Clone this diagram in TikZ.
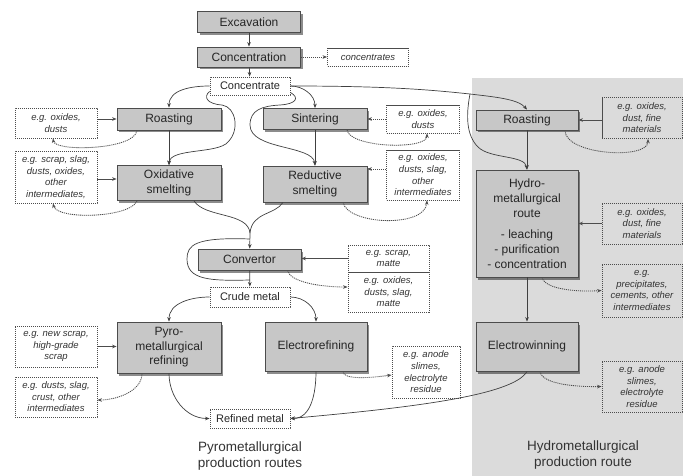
\documentclass[tikz,border=0pt]{standalone}
\usepackage{fontspec}
\setmainfont{Liberation Sans}
\usetikzlibrary{arrows.meta,shadows,calc}

\begin{document}
\begin{tikzpicture}[x=1pt,y=-1pt,
  every node/.style={inner sep=0pt, align=center},
  proc/.style={draw=black!70, line width=0.8pt, fill=black!22,
    drop shadow={shadow xshift=2pt,shadow yshift=-2.5pt,opacity=0.45,fill=black},
    font=\fontsize{12}{14.5}\selectfont, text=black!85},
  prod/.style={draw=black!70, line width=0.9pt, dash pattern=on 1.1pt off 0.9pt,
    font=\fontsize{11}{13}\selectfont, text=black!85},
  note/.style={prod, font=\itshape\fontsize{9.5}{11.6}\selectfont, text=black!80},
  flow/.style={draw=black!75, line width=0.7pt, -{Stealth[length=4.5pt,width=3.6pt]}},
  side/.style={flow, draw=black!70, line width=0.85pt, dash pattern=on 1.1pt off 0.9pt},
  caption/.style={font=\fontsize{13.5}{16}\selectfont, text=black!80}
]
\useasboundingbox (0,0) rectangle (683,476);

% hydrometallurgical panel
\fill[black!14] (472,78) rectangle (683,476);

% ---- main process chain
\node[proc, minimum width=103pt, minimum height=21pt] (exc) at (249,22) {Excavation};
\node[proc, minimum width=103pt, minimum height=20pt] (conc) at (249,57) {Concentration};
\node[note, minimum width=81pt, minimum height=18pt] (concs) at (368,57) {concentrates};
\node[prod, minimum width=80pt, minimum height=18pt] (cate) at (250,86) {Concentrate};

% pyrometallurgical pre-treatment and smelting
\node[proc, minimum width=104pt, minimum height=22pt] (roastL) at (169,119) {Roasting};
\node[note, minimum width=82pt, minimum height=30pt] (nRoastL) at (56,123) {e.g. oxides,\\dusts};
\node[proc, minimum width=104pt, minimum height=35pt] (ox) at (169,183) {Oxidative\\smelting};
\node[note, minimum width=82pt, minimum height=52pt] (nOx) at (56,177) {e.g. scrap, slag,\\dusts, oxides,\\other\\intermediates,};

\node[proc, minimum width=104pt, minimum height=21pt] (sint) at (315,119) {Sintering};
\node[note, minimum width=73pt, minimum height=28pt] (nSint) at (423,119) {e.g. oxides,\\dusts};
\node[proc, minimum width=104pt, minimum height=36pt] (reds) at (315,184) {Reductive\\smelting};
\node[note, minimum width=73pt, minimum height=50pt] (nRed) at (423,175) {e.g. oxides,\\dusts, slag,\\other\\intermediates};

% hydrometallurgical route
\node[proc, minimum width=102pt, minimum height=20pt] (roastR) at (527,120) {Roasting};
\node[note, minimum width=80pt, minimum height=41pt] (nRoastR) at (642,118) {e.g. oxides,\\dust, fine\\materials};
\node[proc, minimum width=102pt, minimum height=107pt, font=\fontsize{12}{15}\selectfont] (hydro) at (527,223.5)
  {Hydro-\\metallurgical\\route\\[6pt]- leaching\\- purification\\- concentration};
\node[note, minimum width=80pt, minimum height=41pt] (nHydro) at (642,223.5) {e.g. oxides,\\dust, fine\\materials};
\node[note, minimum width=80pt, minimum height=53pt] (nPrec) at (642,290.5) {e.g.\\precipitates,\\cements, other\\intermediates};
\node[proc, minimum width=102pt, minimum height=49pt] (ewin) at (527,346.5) {Electrowinning};
\node[note, minimum width=80pt, minimum height=51pt] (nEwin) at (642,386.5) {e.g. anode\\slimes,\\electrolyte\\residue};

% converting
\node[proc, minimum width=103pt, minimum height=21pt] (convertor) at (249.5,259.5) {Convertor};
\node[note, minimum width=81pt, minimum height=27pt] (nConvIn) at (388.5,258.5) {e.g. scrap,\\matte};
\node[note, minimum width=81pt, minimum height=40pt] (nConvOut) at (388.5,292) {e.g. oxides,\\dusts, slag,\\matte};
\node[prod, minimum width=80pt, minimum height=20pt] (crude) at (250,297) {Crude metal};

% refining
\node[proc, minimum width=104pt, minimum height=51pt] (pyro) at (169,347.5) {Pyro-\\metallurgical\\refining};
\node[note, minimum width=82pt, minimum height=41pt] (nPyroIn) at (56,346.5) {e.g. new scrap,\\high-grade\\scrap};
\node[note, minimum width=82pt, minimum height=40pt] (nPyroOut) at (56,397) {e.g. dusts, slag,\\crust, other\\intermediates};
\node[proc, minimum width=102pt, minimum height=49pt] (erefin) at (316,346.5) {Electrorefining};
\node[note, minimum width=68pt, minimum height=52pt] (nEref) at (426,372) {e.g. anode\\slimes,\\electrolyte\\residue};
\node[prod, minimum width=80pt, minimum height=19pt] (refined) at (250,418.5) {Refined metal};

% route captions
\node[caption] (capPyro) at (250,456) {Pyrometallurgical\\production routes};
\node[caption] (capHydro) at (583,455) {Hydrometallurgical\\production route};

% ---- helper points on the flow lines
\coordinate (fork) at (470,94);
\coordinate (merge) at (250,233);
\coordinate (loopA) at (250,239);
\coordinate (loopB) at (250,280);

% ---- main flows
\draw[flow] (exc) -- (conc);
\draw[flow] (conc) -- (cate);
\draw[side] (conc) -- (concs);

\draw[flow] (cate.west) to[out=180,in=90] (roastL.north);
\draw[flow] (cate.east) to[out=0,in=90] (sint.north);
\draw[draw=black!75, line width=0.7pt] (cate.east) .. controls (390,86) and (432,90) .. (fork);
\draw[flow] (fork) .. controls (495,97) and (518,99) .. (roastR.north);
\draw[flow] (fork) .. controls (466,115) and (466,135) .. (478,147)
  .. controls (490,159) and (525,155) .. (hydro.north);

% bypass of roasting into oxidative smelting
\draw[flow] ([yshift=4pt]cate.south west) .. controls (203,97) and (207,104) .. (222,105)
  .. controls (236,107) and (240,130) .. (228,142)
  .. controls (218,154) and (170,148) .. (ox.north);
% bypass of sintering into reductive smelting
\draw[flow] ([yshift=3pt]cate.south east) .. controls (300,98) and (296,104) .. (280,105)
  .. controls (262,106) and (250,110) .. (250,125)
  .. controls (250,150) and (313,145) .. (reds.north);

\draw[flow] (roastL) -- (ox);
\draw[flow] (sint) -- (reds);
\draw[flow] (roastR) -- (hydro);

% smelting products to the convertor
\draw[draw=black!75, line width=0.7pt] ([xshift=25pt]ox.south) .. controls (205,218) and (248,212) .. (merge);
\draw[draw=black!75, line width=0.7pt] ([xshift=-32pt]reds.south) .. controls (275,215) and (252,212) .. (merge);
\draw[flow] (merge) -- (convertor);
\draw[draw=black!75, line width=0.7pt] (loopA) .. controls (195,237) and (187,245) .. (187,259)
  .. controls (187,280) and (210,281) .. (loopB);
\draw[flow] (convertor) -- (crude);

% refining
\draw[flow] (crude.west) to[out=180,in=90] (pyro.north);
\draw[flow] (crude.east) to[out=0,in=90] (erefin.north);
\draw[flow] (pyro.south) to[out=-90,in=180] (refined.west);
\draw[flow] (erefin.south) to[out=-90,in=0] (refined.east);
\draw[flow] (ewin.south) .. controls (513,397) and (395,409) .. (refined.east);
\draw[flow] (hydro) -- (ewin);

% ---- side streams
\draw[side] (nRoastL.east |- roastL.west) -- (roastL.west);
\draw[side] ([xshift=-32pt]roastL.south) .. controls (135,150) and (55,152) .. ([xshift=-3pt]nRoastL.south);
\draw[side] ([yshift=-2pt]nOx.east) -- ([yshift=4pt]ox.west);
\draw[side] ([xshift=-32pt]ox.south) .. controls (130,218) and (57,220) .. ([xshift=-3pt]nOx.south);

\draw[side] (nSint.west) -- (sint.east);
\draw[side] ([xshift=32pt]sint.south) .. controls (350,148) and (427,150) .. ([xshift=4pt]nSint.south);
\draw[side] ([yshift=6pt]nRed.west) -- ([yshift=15pt]reds.east);
\draw[side] ([xshift=28pt]reds.south) .. controls (348,225) and (425,228) .. ([xshift=4pt]nRed.south);

\draw[side] (nRoastR.west |- roastR.east) -- (roastR.east);
\draw[side] ([xshift=38pt]roastR.south) .. controls (565,155) and (648,160) .. ([xshift=6pt]nRoastR.south);
\draw[side] (nHydro.west) -- (hydro.east);
\draw[side] ([xshift=15pt]hydro.south) .. controls (545,290) and (580,292) .. (nPrec.west);
\draw[side] ([xshift=13pt]ewin.south) .. controls (542,385) and (580,387) .. (nEwin.west);

\draw[side] (nConvIn.west) -- (nConvIn.west -| convertor.east);
\draw[side] ([xshift=38pt]convertor.south) .. controls (290,282) and (320,287) .. ([yshift=5pt]nConvOut.west);

\draw[side] (nPyroIn.east) -- (nPyroIn.east -| pyro.west);
\draw[side] ([xshift=-27pt]pyro.south) .. controls (142,392) and (115,400) .. ([yshift=-3pt]nPyroOut.east);
\draw[side] ([xshift=27pt]erefin.south) .. controls (343,380) and (370,378) .. ([yshift=-3pt]nEref.west);
\end{tikzpicture}
\end{document}
